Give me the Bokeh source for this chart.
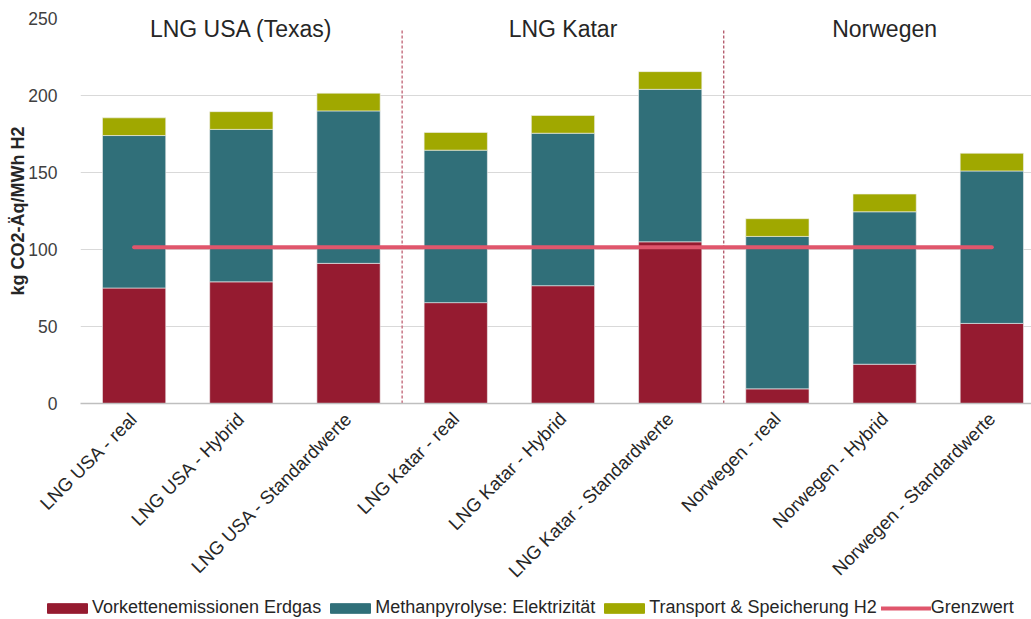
import numpy as np
from bokeh.plotting import figure
from bokeh.layouts import column, row
from bokeh.models import (Range1d, FixedTicker, Legend, LegendItem, ColumnDataSource)
from bokeh.core.properties import value
from bokeh.embed import file_html
from bokeh.resources import INLINE

# ---- data ----
categories = [
    "LNG USA - real", "LNG USA - Hybrid", "LNG USA - Standardwerte",
    "LNG Katar - real", "LNG Katar - Hybrid", "LNG Katar - Standardwerte",
    "Norwegen - real", "Norwegen - Hybrid", "Norwegen - Standardwerte",
]
vorkette = [75, 79, 91, 65.5, 76.5, 105, 9.5, 25.5, 52]
elektrizitaet = [99, 99, 99, 99, 99, 99, 99, 99, 99]
transport = [11.5, 11.5, 11.5, 11.5, 11.5, 11.5, 11.5, 11.5, 11.5]
grenzwert = 101.4
groups = ["LNG USA (Texas)", "LNG Katar", "Norwegen"]
group_size = 3
series_names = ["Vorkettenemissionen Erdgas", "Methanpyrolyse: Elektrizität",
                "Transport & Speicherung H2"]
limit_name = "Grenzwert"
y_ticks = [0, 50, 100, 150, 200, 250]

colors = ["#951b30", "#306f79", "#a0a800"]
limit_color = "#e0566c"
FONT = "Liberation Sans"

x = list(range(len(categories)))
src = ColumnDataSource(dict(x=x, v1=vorkette, v2=elektrizitaet, v3=transport))

p = figure(width=1031, height=591, output_backend="svg", toolbar_location=None,
           x_range=Range1d(-0.5, 8.37), y_range=Range1d(0, 250),
           min_border_left=80, min_border_right=0, min_border_top=18,
           min_border_bottom=188)
p.outline_line_color = None
p.background_fill_color = "white"
p.border_fill_color = "white"

renderers = p.vbar_stack(["v1", "v2", "v3"], x="x", width=0.59, source=src,
                         color=colors, line_color="#f0f0f0", line_width=0.6)

# group separators
seps = [i * group_size - 0.5 for i in range(1, len(groups))]
p.segment(x0=seps, y0=[0] * len(seps), x1=seps, y1=[243] * len(seps),
          line_color=["#c77585", "#9a2038"], line_width=[1.5, 1], line_dash="3 2")

# limit line
p.line(x=[x[0], x[-1]], y=[grenzwert, grenzwert], line_color=limit_color,
       line_width=4, line_cap="round")

# group labels
gx = [np.mean(x[i * group_size:(i + 1) * group_size]) for i in range(len(groups))]
p.text(x=gx, y=[243] * len(groups), text=groups, text_align="center",
       text_baseline="middle", text_font=value(FONT), text_font_size="23px",
       text_color="#262626")

# axes
p.xgrid.grid_line_color = None
p.ygrid.grid_line_color = "#d9d9d9"
p.ygrid.grid_line_width = 1

p.xaxis.ticker = FixedTicker(ticks=x)
p.xaxis.major_label_overrides = {i: c for i, c in zip(x, categories)}
p.xaxis.major_label_orientation = np.pi / 4
p.xaxis.major_tick_line_color = None
p.xaxis.minor_tick_line_color = None
p.xaxis.axis_line_color = "#bfbfbf"
p.xaxis.axis_line_width = 1.5
p.xaxis.major_label_text_font = FONT
p.xaxis.major_label_text_font_size = "18.5px"
p.xaxis.major_label_text_color = "#262626"
p.xaxis.major_label_standoff = 6

p.yaxis.ticker = FixedTicker(ticks=y_ticks)
p.yaxis.major_tick_line_color = None
p.yaxis.minor_tick_line_color = None
p.yaxis.axis_line_color = None
p.yaxis.major_label_text_font = FONT
p.yaxis.major_label_text_font_size = "17.5px"
p.yaxis.major_label_text_color = "#404040"
p.yaxis.major_label_standoff = 17
p.yaxis.axis_label = "kg CO2-Äq/MWh H2"
p.yaxis.axis_label_text_font = FONT
p.yaxis.axis_label_text_font_size = "18px"
p.yaxis.axis_label_text_font_style = "bold"
p.yaxis.axis_label_text_color = "#262626"
p.yaxis.axis_label_standoff = -3

# ---- legend strip ----
lg = figure(width=1031, height=28, output_backend="svg", toolbar_location=None,
            x_range=Range1d(0, 1), y_range=Range1d(0, 1),
            min_border=0, min_border_left=0, x_axis_location=None, y_axis_location=None)
lg.outline_line_color = None
lg.xgrid.visible = False
lg.ygrid.visible = False
# hidden stand-in glyphs (outside the visible range) that only feed the legend swatches
lg_rs = [lg.vbar(x=[5], top=[1], width=0.5, color=c) for c in colors]
lg_line = lg.line(x=[5, 6], y=[0.5, 0.5], line_color=limit_color, line_width=4,
                  line_cap="round")
items = [LegendItem(label=n, renderers=[r]) for n, r in zip(series_names, lg_rs)]
items.append(LegendItem(label=limit_name, renderers=[lg_line]))
legend = Legend(items=items, orientation="horizontal", location=(42, 1),
                glyph_width=50, glyph_height=12, label_height=20,
                label_standoff=0, spacing=4, padding=0, margin=0,
                label_text_font=FONT, label_text_font_size="18px",
                label_text_color="#262626",
                border_line_color=None, background_fill_alpha=0)
lg.add_layout(legend, "center")

open("out.html", "w").write(file_html(column(p, row(lg), spacing=0), INLINE))
